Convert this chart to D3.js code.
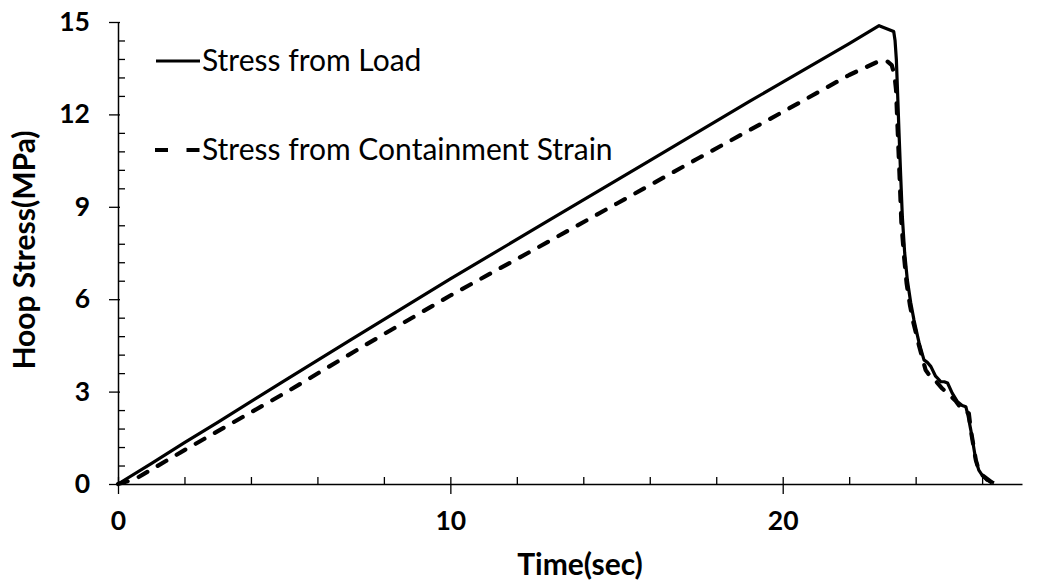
<!DOCTYPE html>
<html>
<head>
<meta charset="utf-8">
<script src="https://cdn.jsdelivr.net/npm/d3@7"></script>
<style>
  html, body { margin: 0; padding: 0; background: #fff; }
  svg { display: block; font-family: Lato, "Open Sans", sans-serif; }
</style>
</head>
<body>
<svg id="chart" width="1037" height="583"></svg>
<script>
// ---- data ----
const loadTime   = [0, 1, 2, 3, 5, 7, 10, 13, 16, 19, 20, 22, 22.9, 23.34, 23.38, 23.42, 23.46, 23.5, 23.55, 23.6, 23.67, 23.75, 23.85, 23.95, 24.1, 24.25, 24.35, 24.46, 24.6, 24.76, 24.86, 24.96, 25.1, 25.26, 25.4, 25.51, 25.58, 25.66, 25.81, 25.9, 26.0, 26.15, 26.36];
const loadStress = [0, 0.66, 1.34, 2.0, 3.35, 4.68, 6.66, 8.58, 10.5, 12.42, 13.05, 14.3, 14.88, 14.69, 14.4, 13.77, 12.6, 11.4, 10.0, 8.67, 7.5, 6.62, 5.9, 5.32, 4.6, 4.03, 3.95, 3.81, 3.5, 3.32, 3.32, 3.28, 2.95, 2.67, 2.55, 2.51, 2.2, 1.75, 0.78, 0.45, 0.29, 0.12, 0.04];

const strainTime   = [0, 0.5, 2, 5, 7.5, 10, 12.5, 15, 17.5, 20, 22, 22.9, 23.15, 23.28, 23.36, 23.41, 23.47, 23.52, 23.57, 23.65, 23.73, 23.83, 23.93, 24.1, 24.3, 24.45, 24.6, 24.8, 24.96, 25.2, 25.45, 25.6, 25.66, 25.81, 25.9, 26.0, 26.3];
const strainStress = [0, 0.15, 1.1, 2.94, 4.55, 6.12, 7.6, 9.1, 10.6, 12.08, 13.28, 13.73, 13.72, 13.6, 13.3, 12.8, 11.2, 9.9, 8.5, 7.4, 6.5, 5.8, 5.25, 4.5, 3.7, 3.48, 3.35, 3.1, 2.95, 2.7, 2.35, 2.3, 1.75, 0.78, 0.45, 0.29, 0.04];

const xTicks = [0, 10, 20];
const yTicks = [0, 3, 6, 9, 12, 15];
const xMinorTicks = [2, 4, 6, 8, 12, 14, 16, 18, 22, 24, 26];
const yMinorTicks = [0.6, 1.2, 1.8, 2.4, 3.6, 4.2, 4.8, 5.4, 6.6, 7.2, 7.8, 8.4, 9.6, 10.2, 10.8, 11.4, 12.6, 13.2, 13.8, 14.4];
const seriesNames = ["Stress from Load", "Stress from Containment Strain"];
const xTitle = "Time(sec)";
const yTitle = "Hoop Stress(MPa)";

// ---- layout ----
const svg = d3.select("#chart");
const x = d3.scaleLinear().domain([0, 27.2]).range([118, 1022]);
const y = d3.scaleLinear().domain([0, 15]).range([484, 22]);

// minor ticks (inside)
svg.append("g")
  .attr("transform", `translate(0,${y(0)})`)
  .call(d3.axisTop(x).tickValues(xMinorTicks).tickSize(7).tickFormat(""))
  .call(g => g.select(".domain").remove())
  .selectAll("line").attr("stroke", "#000").attr("stroke-width", 1.3);
svg.append("g")
  .attr("transform", `translate(${x(0)},0)`)
  .call(d3.axisRight(y).tickValues(yMinorTicks).tickSize(7).tickFormat(""))
  .call(g => g.select(".domain").remove())
  .selectAll("line").attr("stroke", "#000").attr("stroke-width", 1.3);

// major axes (ticks crossing)
const xAxis = svg.append("g")
  .attr("transform", `translate(0,${y(0)})`)
  .call(d3.axisBottom(x).tickValues(xTicks).tickSizeInner(10).tickSizeOuter(0).tickPadding(17).tickFormat(d3.format("d")));
xAxis.selectAll(".tick line").attr("y1", -7);
xAxis.select(".domain").attr("stroke-width", 1.5);

const yAxis = svg.append("g")
  .attr("transform", `translate(${x(0)},0)`)
  .call(d3.axisLeft(y).tickValues(yTicks).tickSizeInner(9).tickSizeOuter(0).tickPadding(19).tickFormat(d3.format("d")));
yAxis.selectAll(".tick line").attr("x1", 2);
yAxis.select(".domain").attr("stroke-width", 1.5);

svg.selectAll(".tick text")
  .attr("font-family", "Lato, sans-serif")
  .attr("font-weight", "bold")
  .attr("font-size", 26.5)
  .attr("fill", "#000");
svg.selectAll(".tick line").attr("stroke", "#000").attr("stroke-width", 1.3);
svg.selectAll(".domain").attr("stroke", "#000");

// axis titles
svg.append("text")
  .attr("x", 580).attr("y", 575)
  .attr("text-anchor", "middle")
  .attr("font-weight", "bold").attr("font-size", 30)
  .text(xTitle);
svg.append("text")
  .attr("transform", `translate(35,250) rotate(-90)`)
  .attr("text-anchor", "middle")
  .attr("font-weight", "bold").attr("font-size", 30)
  .text(yTitle);

// lines
const line = d3.line().x(d => x(d[0])).y(d => y(d[1])).curve(d3.curveLinear);
const loadData = loadTime.map((t, i) => [t, loadStress[i]]);
const strainData = strainTime.map((t, i) => [t, strainStress[i]]);

svg.append("path")
  .attr("d", line(strainData))
  .attr("fill", "none").attr("stroke", "#000")
  .attr("stroke-width", 4.2)
  .attr("stroke-linecap", "round")
  .attr("stroke-linejoin", "round")
  .attr("stroke-dasharray", "10,12");

svg.append("path")
  .attr("d", line(loadData))
  .attr("fill", "none").attr("stroke", "#000")
  .attr("stroke-width", 3.2)
  .attr("stroke-linejoin", "round");

// legend
const lg = svg.append("g");
lg.append("line").attr("x1", 156).attr("x2", 200).attr("y1", 61).attr("y2", 61)
  .attr("stroke", "#000").attr("stroke-width", 3.2);
lg.append("text").attr("x", 202).attr("y", 71).attr("font-size", 30).text(seriesNames[0]);
lg.append("line").attr("x1", 155).attr("x2", 200).attr("y1", 150).attr("y2", 150)
  .attr("stroke", "#000").attr("stroke-width", 4.2).attr("stroke-dasharray", "13,18.5");
lg.append("text").attr("x", 202).attr("y", 160).attr("font-size", 30).text(seriesNames[1]);
</script>
</body>
</html>
